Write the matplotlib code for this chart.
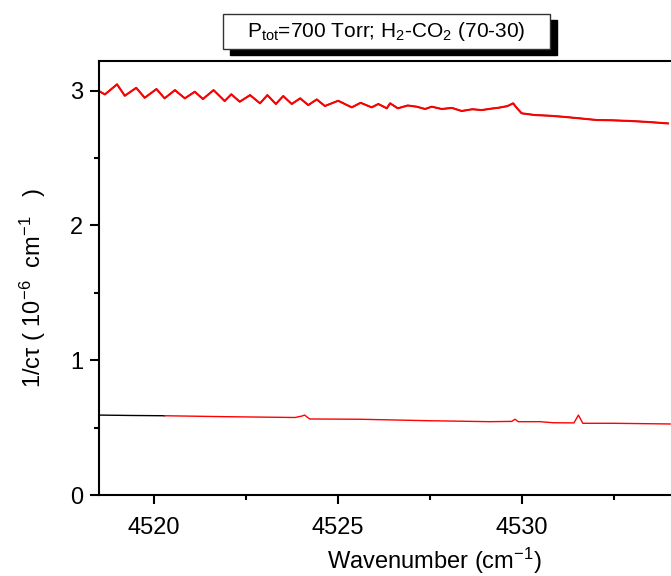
import matplotlib
matplotlib.use("Agg")
from matplotlib import pyplot as plt
from matplotlib.patches import Rectangle

plt.rcParams['font.family'] = ['Liberation Sans', 'DejaVu Sans']
plt.rcParams['mathtext.fontset'] = 'custom'
plt.rcParams['mathtext.rm'] = 'Liberation Sans'
plt.rcParams['mathtext.it'] = 'Liberation Sans:italic'
plt.rcParams['mathtext.default'] = 'regular'

# Upper trace (high loss), peaks and troughs
upper_x = [4518.55, 4518.68, 4519.01, 4519.22, 4519.53, 4519.76, 4520.08, 4520.30,
           4520.58, 4520.85, 4521.12, 4521.34, 4521.63, 4521.93, 4522.11, 4522.34,
           4522.62, 4522.89, 4523.09, 4523.32, 4523.52, 4523.75, 4523.98, 4524.20,
           4524.43, 4524.65, 4525.01, 4525.38, 4525.62, 4525.92, 4526.10, 4526.33,
           4526.42, 4526.63, 4526.90, 4527.14, 4527.37, 4527.55, 4527.82, 4528.10,
           4528.36, 4528.65, 4528.91, 4529.15, 4529.36, 4529.60, 4529.76, 4529.86,
           4529.99, 4530.35, 4530.75, 4531.12, 4531.55, 4532.03, 4532.45, 4532.93,
           4533.40, 4533.96]
upper_y = [2.992, 2.972, 3.047, 2.962, 3.021, 2.947, 3.012, 2.943,
           3.004, 2.943, 2.992, 2.938, 3.004, 2.923, 2.973, 2.918,
           2.967, 2.906, 2.967, 2.901, 2.960, 2.901, 2.943, 2.893,
           2.935, 2.886, 2.925, 2.876, 2.910, 2.876, 2.901, 2.869,
           2.906, 2.869, 2.890, 2.881, 2.864, 2.881, 2.864, 2.872,
           2.849, 2.862, 2.856, 2.866, 2.873, 2.885, 2.906, 2.871,
           2.832, 2.819, 2.814, 2.806, 2.795, 2.782, 2.780, 2.775,
           2.768, 2.757]

# Lower trace (low loss): black part, then red part
lower_black_x = [4518.52, 4519.40, 4520.30]
lower_black_y = [0.593, 0.590, 0.588]
lower_red_x = [4520.30, 4521.98, 4523.84, 4524.03, 4524.10, 4524.17, 4524.24, 4525.60,
               4527.50, 4529.13, 4529.72, 4529.81, 4529.90, 4530.49, 4530.85, 4531.41,
               4531.53, 4531.65, 4532.48, 4534.02]
lower_red_y = [0.588, 0.581, 0.575, 0.586, 0.593, 0.578, 0.564, 0.562,
               0.551, 0.544, 0.546, 0.562, 0.544, 0.544, 0.536, 0.535,
               0.593, 0.532, 0.532, 0.527]

fig = plt.figure(figsize=(6.71, 5.76), dpi=100)
ax = fig.add_axes([99 / 671, 81 / 576, 1.0, 434 / 576])

ax.plot(upper_x, upper_y, color="black", linewidth=1.0)
ax.plot(upper_x, upper_y, color="#ff0000", linewidth=1.5)
ax.plot(lower_black_x, lower_black_y, color="black", linewidth=1.0)
ax.plot(lower_red_x, lower_red_y, color="#ff0000", linewidth=1.0)

ax.set_xlim(4518.52, 4536.73)
ax.set_ylim(0, 3.22)
ax.set_xticks([4520, 4525, 4530])
ax.set_xticks([4522.5, 4527.5, 4532.5], minor=True)
ax.set_yticks([0, 1, 2, 3])
ax.set_yticks([0.5, 1.5, 2.5], minor=True)
for s in ax.spines.values():
    s.set_linewidth(1.5)
ax.tick_params(which="major", direction="out", length=6.5, width=1.5, labelsize=17, pad=5)
ax.tick_params(which="minor", direction="out", length=3.6, width=1.5)
ax.tick_params(axis="x", pad=9)

ax.set_xlabel("Wavenumber (cm$^{-1}$)", fontsize=17, labelpad=5)
ax.set_ylabel("1/c\u03c4 ( 10$^{-6}$  cm$^{-1}$   )", fontsize=17)
ax.yaxis.set_label_coords(-0.076, 0.478)

# Title box with drop shadow
fig.patches.append(Rectangle((229.7 / 671, 1 - 55.3 / 576), 327.3 / 671, 35.3 / 576,
                             transform=fig.transFigure, facecolor="black", edgecolor="black"))
fig.patches.append(Rectangle((222.7 / 671, 1 - 49.3 / 576), 327.3 / 671, 35.3 / 576,
                             transform=fig.transFigure, facecolor="white", edgecolor="#333333",
                             linewidth=1.0))
fig.text(386 / 671, 1 - 31.5 / 576, "P$_{\\mathrm{tot}}$=700 Torr; H$_2$-CO$_2$ (70-30)",
         ha="center", va="center", fontsize=15)

fig.savefig("out.png", dpi=100)
